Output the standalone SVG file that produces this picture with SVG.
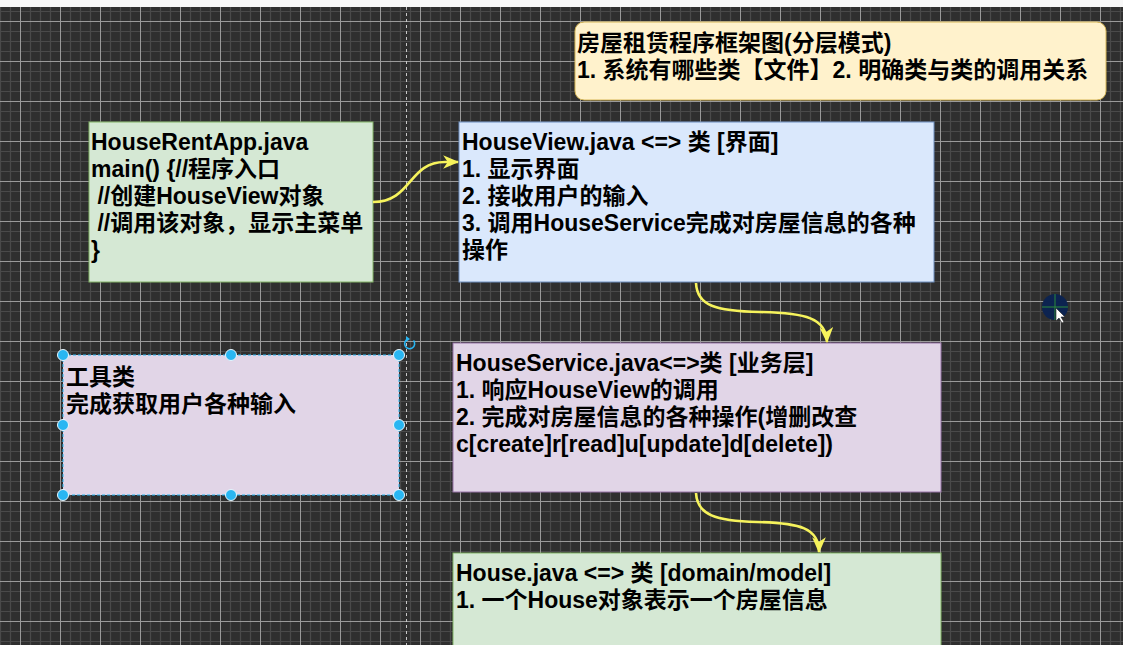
<svg xmlns="http://www.w3.org/2000/svg" width="1123" height="645" viewBox="0 0 1123 645">
<style>
.t{font-family:"Liberation Sans","Noto Sans CJK SC",sans-serif;font-size:23px;font-weight:bold;fill:#000}
.conn{fill:none;stroke:#f6f35c;stroke-width:2.6}
.h{fill:#29b6f2;stroke:#e8f6fd;stroke-width:1}
</style>
<defs>
<pattern id="grid" patternUnits="userSpaceOnUse" x="20" y="21" width="40" height="40">
<rect width="40" height="40" fill="#2f2f2f"/>
<path d="M10.5,0V40M20.5,0V40M30.5,0V40M0,10.5H40M0,20.5H40M0,30.5H40" stroke="#4a4a4a" stroke-width="1.2"/>
<path d="M0.5,0V40M0,0.5H40" stroke="#9a9a9a" stroke-width="1"/>
</pattern>
<marker id="arr" markerUnits="userSpaceOnUse" markerWidth="16" markerHeight="14" viewBox="0 0 14 12" refX="13" refY="6" orient="auto">
<path d="M0,0 L14,6 L0,12 L4,6 Z" fill="#f6f35c"/>
</marker>
</defs>
<rect width="1123" height="645" fill="url(#grid)"/>
<rect width="1123" height="7" fill="#f7f7f7"/>
<line x1="406.5" y1="7" x2="406.5" y2="645" stroke="#c8c8c8" stroke-width="1" stroke-dasharray="3 3"/>

<g id="title">
<rect x="575" y="22" width="531" height="78" rx="9" fill="#fff2cc" stroke="#d6b656" stroke-width="1"/>
<text class="t" x="577" y="51">房屋租赁程序框架图(分层模式)</text>
<text class="t" x="577" y="78">1. 系统有哪些类【文件】2. 明确类与类的调用关系</text>
</g>

<g id="houseRentApp">
<rect x="89" y="122" width="284" height="160" fill="#d5e8d4" stroke="#82b366" stroke-width="1"/>
<text class="t" x="91" y="150">HouseRentApp.java</text>
<text class="t" x="91" y="177">main() {//程序入口</text>
<text class="t" x="91" y="204" xml:space="preserve"> //创建HouseView对象</text>
<text class="t" x="91" y="231" xml:space="preserve"> //调用该对象，显示主菜单</text>
<text class="t" x="91" y="258">}</text>
</g>

<g id="houseView">
<rect x="459" y="122" width="475" height="160" fill="#dae8fc" stroke="#6c8ebf" stroke-width="1"/>
<text class="t" x="462" y="150">HouseView.java &lt;=&gt; 类 [界面]</text>
<text class="t" x="462" y="177">1. 显示界面</text>
<text class="t" x="462" y="204">2. 接收用户的输入</text>
<text class="t" x="462" y="231">3. 调用HouseService完成对房屋信息的各种</text>
<text class="t" x="462" y="258">操作</text>
</g>

<g id="tool">
<rect x="63" y="355" width="336" height="140" fill="#e1d5e7" stroke="#29b6f2" stroke-width="1" stroke-dasharray="3 2"/>
<text class="t" x="66" y="385">工具类</text>
<text class="t" x="66" y="412">完成获取用户各种输入</text>
<circle class="h" cx="63" cy="355" r="5.5"/>
<circle class="h" cx="231" cy="355" r="5.5"/>
<circle class="h" cx="399" cy="355" r="5.5"/>
<circle class="h" cx="63" cy="425" r="5.5"/>
<circle class="h" cx="399" cy="425" r="5.5"/>
<circle class="h" cx="63" cy="495" r="5.5"/>
<circle class="h" cx="231" cy="495" r="5.5"/>
<circle class="h" cx="399" cy="495" r="5.5"/>
<path d="M413.5,340.5 A5,5 0 1 1 408,339" fill="none" stroke="#29b6f2" stroke-width="1.6"/>
<path d="M406,336 L410,339 L406,342 Z" fill="#29b6f2"/>
</g>

<g id="houseService">
<rect x="453" y="343" width="488" height="149" fill="#e1d5e7" stroke="#9673a6" stroke-width="1"/>
<text class="t" x="456" y="371">HouseService.java&lt;=&gt;类 [业务层]</text>
<text class="t" x="456" y="398">1. 响应HouseView的调用</text>
<text class="t" x="456" y="425">2. 完成对房屋信息的各种操作(增删改查</text>
<text class="t" x="456" y="452">c[create]r[read]u[update]d[delete])</text>
</g>

<g id="house">
<rect x="453" y="553" width="488" height="100" fill="#d5e8d4" stroke="#82b366" stroke-width="1"/>
<text class="t" x="456" y="581">House.java &lt;=&gt; 类 [domain/model]</text>
<text class="t" x="456" y="608">1. 一个House对象表示一个房屋信息</text>
</g>

<g id="connectors">
<path class="conn" d="M373,202 C412,202 408,162 445,162 L458,162" marker-end="url(#arr)"/>
<path class="conn" d="M696,283 C697,306 716,311 760,312 C806,313 826,318 827,342" marker-end="url(#arr)"/>
<path class="conn" d="M696,493 C697,515 716,521 757,522 C800,523 819,528 819,552" marker-end="url(#arr)"/>
</g>

<g id="cursor">
<circle cx="1055" cy="307" r="13" fill="#0c2350"/>
<path d="M1055,294V320M1042,307H1068" stroke="#2a8a3a" stroke-width="1"/>
<path d="M1056,308 L1056,321 L1059,318 L1062,323 L1064,322 L1061,317 L1065,317 Z" fill="#fff" stroke="#222" stroke-width="0.6"/>
</g>
</svg>
